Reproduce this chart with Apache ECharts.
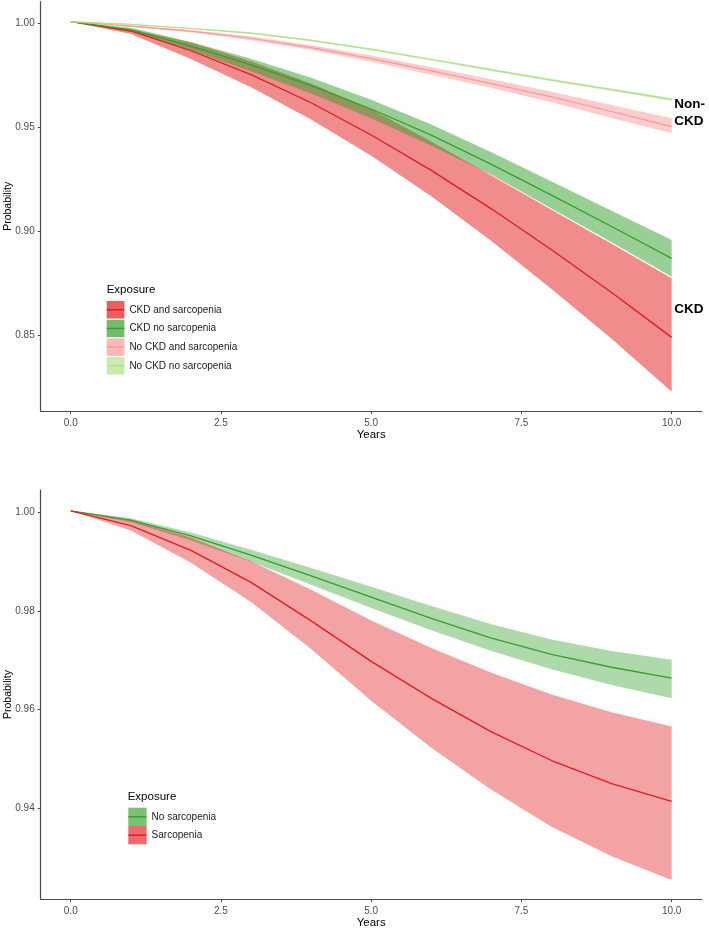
<!DOCTYPE html>
<html>
<head>
<meta charset="UTF-8">
<title>Probability by exposure</title>
<style>
  html, body { margin: 0; padding: 0; background: #fff; }
  #main { width: 709px; height: 929px; }
</style>
</head>
<body>
<div id="main"></div>
<script src="https://cdn.jsdelivr.net/npm/echarts@6/dist/echarts.min.js"></script>
<script>
// ---- data ----
var years = [0, 1, 2, 3, 4, 5, 6, 7, 8, 9, 10];
var xTicks = [0, 2.5, 5, 7.5, 10];
var yTicksTop = [0.85, 0.90, 0.95, 1.00];
var yTicksBottom = [0.94, 0.96, 0.98, 1.00];

// top panel: CKD x sarcopenia
var topNames = ['CKD and sarcopenia', 'CKD no sarcopenia', 'No CKD and sarcopenia', 'No CKD no sarcopenia'];
var ckdSarcMid = [1.0008, 0.9963, 0.9868, 0.9753, 0.9618, 0.9463, 0.9293, 0.9108, 0.8911, 0.8706, 0.8490];
var ckdSarcHi  = [1.0008, 0.9973, 0.9908, 0.9818, 0.9710, 0.9587, 0.9432, 0.9268, 0.9104, 0.8940, 0.8774];
var ckdSarcLo  = [1.0008, 0.9948, 0.9828, 0.9693, 0.9538, 0.9363, 0.9168, 0.8953, 0.8723, 0.8483, 0.8229];
var ckdNoMid   = [1.0008, 0.9968, 0.9890, 0.9800, 0.9700, 0.9588, 0.9462, 0.9322, 0.9174, 0.9023, 0.8870];
var ckdNoHi    = [1.0008, 0.9978, 0.9910, 0.9830, 0.9738, 0.9633, 0.9513, 0.9380, 0.9240, 0.9099, 0.8958];
var ckdNoLo    = [1.0008, 0.9958, 0.9870, 0.9770, 0.9662, 0.9543, 0.9411, 0.9272, 0.9110, 0.8947, 0.8782];
var noCkdSarcMid = [1.0008, 0.9986, 0.9962, 0.9928, 0.9883, 0.9830, 0.9771, 0.9710, 0.9646, 0.9576, 0.9503];
var noCkdSarcHi  = [1.0008, 0.9990, 0.9968, 0.9937, 0.9895, 0.9845, 0.9789, 0.9731, 0.9671, 0.9607, 0.9543];
var noCkdSarcLo  = [1.0008, 0.9982, 0.9956, 0.9919, 0.9871, 0.9815, 0.9753, 0.9689, 0.9621, 0.9545, 0.9471];
var noCkdNoMid = [1.0008, 0.9995, 0.9975, 0.9953, 0.9918, 0.9875, 0.9826, 0.9776, 0.9727, 0.9681, 0.9634];
var noCkdNoHi  = [1.0008, 0.9997, 0.9978, 0.9957, 0.9922, 0.9880, 0.9831, 0.9781, 0.9733, 0.9687, 0.9641];
var noCkdNoLo  = [1.0008, 0.9993, 0.9972, 0.9949, 0.9914, 0.9870, 0.9821, 0.9771, 0.9721, 0.9675, 0.9627];

// text notes at the right end of the top panel
var topNotes = ['Non-\nCKD', 'CKD'];
var topNoteAt = [[10, 0.9568], [10, 0.8627]];

// bottom panel: sarcopenia only
var bottomNames = ['No sarcopenia', 'Sarcopenia'];
var noSarcMid = [1.0003, 0.9984, 0.9952, 0.9913, 0.9871, 0.9828, 0.9785, 0.9745, 0.9712, 0.9686, 0.9664];
var noSarcHi  = [1.0003, 0.9988, 0.9959, 0.9924, 0.9887, 0.9849, 0.9810, 0.9773, 0.9742, 0.9719, 0.9701];
var noSarcLo  = [1.0003, 0.9980, 0.9943, 0.9900, 0.9853, 0.9806, 0.9761, 0.9719, 0.9682, 0.9650, 0.9623];
var sarcMid = [1.0003, 0.9973, 0.9923, 0.9858, 0.9780, 0.9698, 0.9623, 0.9555, 0.9497, 0.9450, 0.9414];
var sarcHi  = [1.0003, 0.9985, 0.9949, 0.9901, 0.9843, 0.9781, 0.9725, 0.9675, 0.9631, 0.9595, 0.9566];
var sarcLo  = [1.0003, 0.9963, 0.9898, 0.9818, 0.9723, 0.9618, 0.9523, 0.9438, 0.9363, 0.9303, 0.9255];

// ---- style ----
var FONT = 'Liberation Sans, Arial, sans-serif';
var RED = '#E31A1C', GREEN = '#33A02C', PINK = '#FB9A99', LGREEN = '#B2DF8A';
function rgba(hex, a) {
  var n = parseInt(hex.slice(1), 16);
  return 'rgba(' + (n >> 16) + ',' + ((n >> 8) & 255) + ',' + (n & 255) + ',' + a + ')';
}

// ribbon drawn as one polygon through the axis scales
function band(name, lo, hi, fill, idx) {
  return {
    name: name,
    type: 'custom',
    xAxisIndex: idx,
    yAxisIndex: idx,
    silent: true,
    data: years.map(function (t, i) { return [t, lo[i], hi[i]]; }),
    encode: { x: 0, y: [1, 2] },
    renderItem: function (params, api) {
      if (params.dataIndex !== 0) return null;
      var pts = [];
      for (var i = 0; i < years.length; i++) pts.push(api.coord([years[i], hi[i]]));
      for (var j = years.length - 1; j >= 0; j--) pts.push(api.coord([years[j], lo[j]]));
      return { type: 'polygon', shape: { points: pts }, style: { fill: fill } };
    }
  };
}

function line(name, mid, color, width, idx) {
  return {
    name: name,
    type: 'line',
    xAxisIndex: idx,
    yAxisIndex: idx,
    data: years.map(function (t, i) { return [t, mid[i]]; }),
    symbol: 'none',
    silent: true,
    z: 3,
    lineStyle: { color: color, width: width },
    itemStyle: { color: color }
  };
}

function note(text, at) {
  return {
    coord: at,
    label: { formatter: text }
  };
}

function xAxisOf(idx) {
  return {
    type: 'value',
    gridIndex: idx,
    min: -0.5,
    max: 10.5,
    name: 'Years',
    nameLocation: 'middle',
    nameGap: 18,
    nameMoveOverlap: false,
    nameTextStyle: { fontSize: 11.5, color: '#000', fontFamily: FONT },
    axisLine: { onZero: false, lineStyle: { color: '#4a4a4a', width: 1.2 } },
    axisTick: { show: true, length: 3, customValues: xTicks, lineStyle: { color: '#4a4a4a' } },
    axisLabel: {
      customValues: xTicks, margin: 7, fontSize: 10, color: '#4d4d4d', fontFamily: FONT,
      formatter: function (v) { return v.toFixed(1); }
    },
    splitLine: { show: false }
  };
}

function yAxisOf(idx, min, max, ticks) {
  return {
    type: 'value',
    gridIndex: idx,
    min: min,
    max: max,
    name: 'Probability',
    nameLocation: 'middle',
    nameGap: 27,
    nameMoveOverlap: false,
    nameTextStyle: { fontSize: 10.5, color: '#000', fontFamily: FONT },
    axisLine: { show: true, onZero: false, lineStyle: { color: '#4a4a4a', width: 1.2 } },
    axisTick: { show: true, length: 3, customValues: ticks, lineStyle: { color: '#4a4a4a' } },
    axisLabel: {
      customValues: ticks, margin: 6, fontSize: 10, color: '#4d4d4d', fontFamily: FONT,
      formatter: function (v) { return v.toFixed(2); }
    },
    splitLine: { show: false }
  };
}

function keyLegends(names, keyColors, lineColors, left, top, w, h, gap) {
  var txt = { fontSize: 10, color: '#1a1a1a', fontFamily: FONT, lineHeight: h };
  return [{
    orient: 'vertical', left: left, top: top, padding: 0,
    itemWidth: w, itemHeight: h, itemGap: gap, icon: 'rect', selectedMode: false,
    textStyle: txt,
    data: names.map(function (n, i) { return { name: n, itemStyle: { color: keyColors[i], borderWidth: 0 } }; })
  }, {
    orient: 'vertical', left: left, top: top, padding: 0,
    itemWidth: w, itemHeight: 1.4, itemGap: gap, icon: 'rect', selectedMode: false,
    textStyle: { fontSize: 10, color: 'rgba(0,0,0,0)', fontFamily: FONT, lineHeight: h },
    data: names.map(function (n, i) { return { name: n, itemStyle: { color: lineColors[i], borderWidth: 0 } }; })
  }];
}

var app = echarts.init(document.getElementById('main'));

var topLine = line(topNames[3], noCkdNoMid, LGREEN, 1.2, 0);
topLine.markPoint = {
  symbol: 'circle', symbolSize: 1, silent: true, animation: false,
  itemStyle: { color: 'rgba(0,0,0,0)' },
  label: {
    show: true, position: 'right', distance: 2, color: '#000',
    fontSize: 13.5, fontWeight: 'bold', lineHeight: 17, fontFamily: FONT
  },
  data: topNotes.map(function (t, i) { return note(t, topNoteAt[i]); })
};

var option = {
  backgroundColor: '#fff',
  animation: false,
  textStyle: { fontFamily: FONT },
  title: [{
    text: 'Exposure', left: 106.7, top: 283.3, padding: 0,
    textStyle: { fontSize: 11.5, fontWeight: 'normal', color: '#000', lineHeight: 14, fontFamily: FONT }
  }, {
    text: 'Exposure', left: 127.7, top: 789.7, padding: 0,
    textStyle: { fontSize: 11.5, fontWeight: 'normal', color: '#000', lineHeight: 14, fontFamily: FONT }
  }],
  legend: keyLegends(topNames,
      [rgba(RED, 0.7), rgba(GREEN, 0.7), rgba(PINK, 0.7), rgba(LGREEN, 0.7)],
      [RED, GREEN, PINK, LGREEN], 106.7, 301, 17.7, 17.5, 1.2)
    .concat(keyLegends(bottomNames,
      [rgba(GREEN, 0.65), rgba(RED, 0.65)],
      [GREEN, RED], 128.3, 807.7, 18.3, 18.3, 0)),
  grid: [
    { left: 40.7, right: 7.3, top: 1.7, height: 409.3, containLabel: false, outerBoundsMode: 'none' },
    { left: 40.7, right: 7.3, top: 490, height: 409, containLabel: false, outerBoundsMode: 'none' }
  ],
  xAxis: [xAxisOf(0), xAxisOf(1)],
  yAxis: [
    yAxisOf(0, 0.81361, 1.01038, yTicksTop),
    yAxisOf(1, 0.92164, 1.00452, yTicksBottom)
  ],
  series: [
    band(topNames[0], ckdSarcLo, ckdSarcHi, rgba(RED, 0.5), 0),
    band(topNames[1], ckdNoLo, ckdNoHi, rgba(GREEN, 0.5), 0),
    band(topNames[2], noCkdSarcLo, noCkdSarcHi, rgba(PINK, 0.5), 0),
    band(topNames[3], noCkdNoLo, noCkdNoHi, rgba(LGREEN, 0.5), 0),
    line(topNames[0], ckdSarcMid, RED, 1.3, 0),
    line(topNames[1], ckdNoMid, GREEN, 1.3, 0),
    line(topNames[2], noCkdSarcMid, PINK, 1.2, 0),
    topLine,
    band(bottomNames[0], noSarcLo, noSarcHi, rgba(GREEN, 0.4), 1),
    band(bottomNames[1], sarcLo, sarcHi, rgba(RED, 0.4), 1),
    line(bottomNames[0], noSarcMid, GREEN, 1.3, 1),
    line(bottomNames[1], sarcMid, RED, 1.3, 1)
  ]
};

app.setOption(option);
window.addEventListener('resize', function () { app.resize(); });
</script>
</body>
</html>
